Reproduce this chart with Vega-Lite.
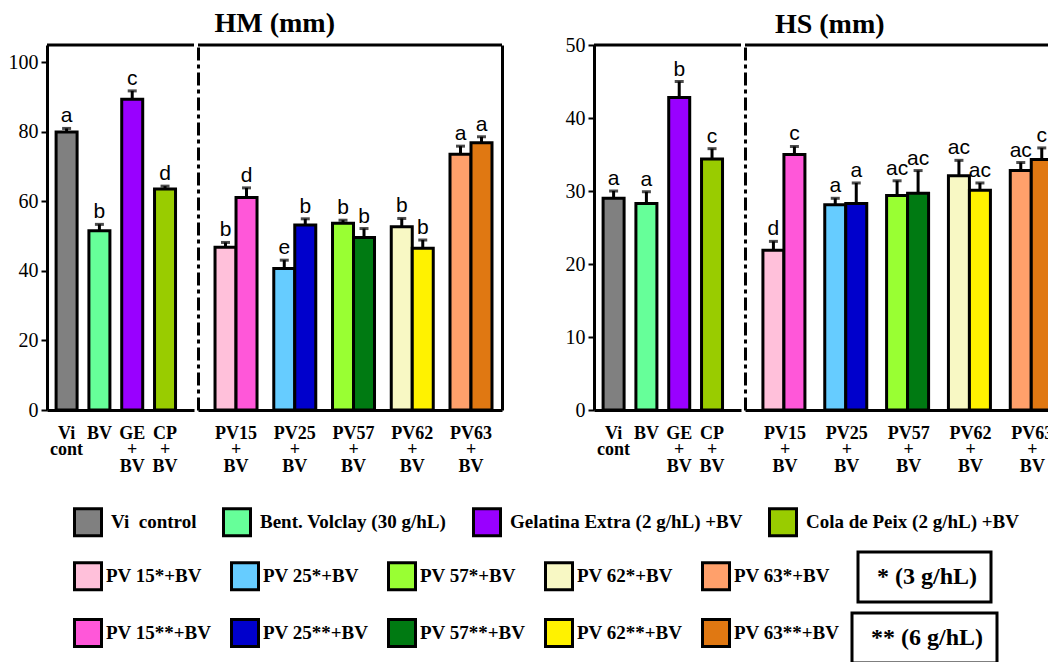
{
 "$schema": "https://vega.github.io/schema/vega-lite/v6.json",
 "padding": {"left": 8, "top": 9, "right": 0, "bottom": 0},
 "background": "white",
 "config": {"view": {"stroke": null}, "font": "Liberation Serif", "axis": {"grid": false}, "legend": {"labelFont": "Liberation Serif"}},
 "datasets": {
  "hmS": [
   {"trt": "Vi", "label": "Vi\u00a0\u00a0control", "mean": 80.0, "hi": 81.0, "sig": "a"},
   {"trt": "BV", "label": "Bent. Volclay (30 g/hL)", "mean": 51.6, "hi": 53.4, "sig": "b"},
   {"trt": "GE", "label": "Gelatina Extra (2 g/hL) +BV", "mean": 89.4, "hi": 91.8, "sig": "c"},
   {"trt": "CP", "label": "Cola de Peix (2 g/hL) +BV", "mean": 63.6, "hi": 64.4, "sig": "d"}
  ],
  "hmP": [
   {"grp": "PV15", "dose": "3", "label": "PV 15*+BV", "mean": 46.8, "hi": 48.2, "sig": "b"},
   {"grp": "PV15", "dose": "6", "label": "PV 15**+BV", "mean": 61.1, "hi": 63.9, "sig": "d"},
   {"grp": "PV25", "dose": "3", "label": "PV 25*+BV", "mean": 40.7, "hi": 43.1, "sig": "e"},
   {"grp": "PV25", "dose": "6", "label": "PV 25**+BV", "mean": 53.2, "hi": 55.0, "sig": "b"},
   {"grp": "PV57", "dose": "3", "label": "PV 57*+BV", "mean": 53.7, "hi": 54.6, "sig": "b"},
   {"grp": "PV57", "dose": "6", "label": "PV 57**+BV", "mean": 49.6, "hi": 52.2, "sig": "b"},
   {"grp": "PV62", "dose": "3", "label": "PV 62*+BV", "mean": 52.7, "hi": 55.1, "sig": "b"},
   {"grp": "PV62", "dose": "6", "label": "PV 62**+BV", "mean": 46.5, "hi": 48.9, "sig": "b"},
   {"grp": "PV63", "dose": "3", "label": "PV 63*+BV", "mean": 73.6, "hi": 75.9, "sig": "a"},
   {"grp": "PV63", "dose": "6", "label": "PV 63**+BV", "mean": 76.9, "hi": 78.6, "sig": "a"}
  ],
  "hsS": [
   {"trt": "Vi", "label": "Vi\u00a0\u00a0control", "mean": 29.0, "hi": 30.0, "sig": "a"},
   {"trt": "BV", "label": "Bent. Volclay (30 g/hL)", "mean": 28.3, "hi": 29.9, "sig": "a"},
   {"trt": "GE", "label": "Gelatina Extra (2 g/hL) +BV", "mean": 42.8, "hi": 45.0, "sig": "b"},
   {"trt": "CP", "label": "Cola de Peix (2 g/hL) +BV", "mean": 34.4, "hi": 35.8, "sig": "c"}
  ],
  "hsP": [
   {"grp": "PV15", "dose": "3", "label": "PV 15*+BV", "mean": 21.9, "hi": 23.1, "sig": "d"},
   {"grp": "PV15", "dose": "6", "label": "PV 15**+BV", "mean": 35.0, "hi": 36.1, "sig": "c"},
   {"grp": "PV25", "dose": "3", "label": "PV 25*+BV", "mean": 28.1, "hi": 29.0, "sig": "a"},
   {"grp": "PV25", "dose": "6", "label": "PV 25**+BV", "mean": 28.3, "hi": 31.1, "sig": "a"},
   {"grp": "PV57", "dose": "3", "label": "PV 57*+BV", "mean": 29.4, "hi": 31.4, "sig": "ac"},
   {"grp": "PV57", "dose": "6", "label": "PV 57**+BV", "mean": 29.7, "hi": 32.8, "sig": "ac"},
   {"grp": "PV62", "dose": "3", "label": "PV 62*+BV", "mean": 32.1, "hi": 34.2, "sig": "ac"},
   {"grp": "PV62", "dose": "6", "label": "PV 62**+BV", "mean": 30.1, "hi": 31.1, "sig": "ac"},
   {"grp": "PV63", "dose": "3", "label": "PV 63*+BV", "mean": 32.8, "hi": 33.9, "sig": "ac"},
   {"grp": "PV63", "dose": "6", "label": "PV 63**+BV", "mean": 34.3, "hi": 35.9, "sig": "c"}
  ],
  "leg": [
   {"label": "Vi\u00a0\u00a0control", "g": 1},
   {"label": "Bent. Volclay (30 g/hL)", "g": 1},
   {"label": "Gelatina Extra (2 g/hL) +BV", "g": 1},
   {"label": "Cola de Peix (2 g/hL) +BV", "g": 1},
   {"label": "PV 15*+BV", "g": 2},
   {"label": "PV 25*+BV", "g": 2},
   {"label": "PV 57*+BV", "g": 2},
   {"label": "PV 62*+BV", "g": 2},
   {"label": "PV 63*+BV", "g": 2},
   {"label": "PV 15**+BV", "g": 2},
   {"label": "PV 25**+BV", "g": 2},
   {"label": "PV 57**+BV", "g": 2},
   {"label": "PV 62**+BV", "g": 2},
   {"label": "PV 63**+BV", "g": 2},
   {"label": "\u00a0* (3 g/hL)\u00a0", "g": 3},
   {"label": "\u00a0** (6 g/hL)\u00a0", "g": 4}
  ]
 },
 "vconcat": [
  {
   "spacing": 61,
   "hconcat": [
    {
     "title": {"text": "HM (mm)", "font": "Liberation Serif", "fontSize": 28, "fontWeight": "bold", "color": "black", "offset": 6, "anchor": "middle", "dx": 19},
     "spacing": 0,
     "hconcat": [
      {
       "width": 147, "height": 365,
       "data": {"name": "hmS"},
       "layer": [
        {"mark": {"type": "bar", "stroke": "black", "strokeWidth": 3},
         "encoding": {
          "x": {"field": "trt", "type": "nominal", "title": null, "scale": {"domain": ["Vi", "BV", "GE", "CP"], "paddingInner": 0.36, "paddingOuter": 0.42, "align": 0.33},
                "axis": {"domainWidth": 3, "domainColor": "black", "ticks": false, "labelFont": "Liberation Serif", "labelFontWeight": "bold", "labelFontSize": 18, "labelColor": "black", "labelPadding": 14, "labelLineHeight": 16.5, "labelAngle": 0, "title": null,
                         "labelExpr": "datum.value == 'Vi' ? ['Vi','cont'] : datum.value == 'BV' ? 'BV' : [datum.value,'+','BV']"}},
          "y": {"field": "mean", "type": "quantitative", "title": null, "scale": {"domain": [0, 105], "nice": false},
                "axis": {"values": [0, 20, 40, 60, 80, 100], "domainWidth": 3, "domainColor": "black", "tickColor": "black", "tickWidth": 2, "tickSize": 6, "labelFont": "Liberation Serif", "labelFontSize": 20, "labelColor": "black", "labelPadding": 3, "grid": false, "title": null}},
          "fill": {"field": "label", "type": "nominal", "legend": null,
                   "scale": {"domain": ["Vi\u00a0\u00a0control", "Bent. Volclay (30 g/hL)", "Gelatina Extra (2 g/hL) +BV", "Cola de Peix (2 g/hL) +BV", "PV 15*+BV", "PV 25*+BV", "PV 57*+BV", "PV 62*+BV", "PV 63*+BV", "PV 15**+BV", "PV 25**+BV", "PV 57**+BV", "PV 62**+BV", "PV 63**+BV"],
                             "range": ["#808080", "#66FF99", "#9900FF", "#99CC00", "#FFC0DA", "#66CCFF", "#99FF33", "#F8F8C4", "#FFA06B", "#FF57D9", "#0000CC", "#007A12", "#FFF200", "#E07812"]}}
         }},
        {"mark": {"type": "rule", "color": "black", "strokeWidth": 3},
         "encoding": {"x": {"field": "trt", "type": "nominal", "title": null}, "y": {"field": "mean", "type": "quantitative", "title": null}, "y2": {"field": "hi"}}},
        {"mark": {"type": "tick", "color": "black", "thickness": 3, "size": 9},
         "encoding": {"x": {"field": "trt", "type": "nominal", "title": null}, "y": {"field": "hi", "type": "quantitative", "title": null}}},
        {"mark": {"type": "text", "font": "Liberation Sans", "fontSize": 21, "baseline": "alphabetic", "dy": -6, "color": "black"},
         "encoding": {"x": {"field": "trt", "type": "nominal", "title": null}, "y": {"field": "hi", "type": "quantitative", "title": null}, "text": {"field": "sig"}}},
        {"data": {"values": [{}]}, "mark": {"type": "rule", "color": "black", "strokeWidth": 3},
         "encoding": {"y": {"datum": 105, "type": "quantitative", "title": null}}}
       ]
      },
      {
       "width": 304, "height": 365,
       "layer": [
        {
         "data": {"name": "hmP"},
         "layer": [
          {"mark": {"type": "bar", "stroke": "black", "strokeWidth": 3},
           "encoding": {
            "x": {"field": "grp", "type": "nominal", "title": null, "scale": {"domain": ["PV15", "PV25", "PV57", "PV62", "PV63"], "paddingInner": 0.285, "paddingOuter": 0.23, "align": 0.63},
                  "axis": {"domainWidth": 3, "domainColor": "black", "ticks": false, "labelFont": "Liberation Serif", "labelFontWeight": "bold", "labelFontSize": 18, "labelColor": "black", "labelPadding": 14, "labelLineHeight": 16.5, "labelAngle": 0, "title": null,
                           "labelExpr": "[datum.value,'+','BV']"}},
            "xOffset": {"field": "dose", "type": "nominal", "scale": {"domain": ["3", "6"], "paddingInner": 0, "paddingOuter": 0}},
            "y": {"field": "mean", "type": "quantitative", "title": null, "scale": {"domain": [0, 105], "nice": false},
                  "axis": {"labels": false, "ticks": false, "domainDash": [13, 4, 4, 4], "domainWidth": 3, "domainColor": "black", "grid": false, "title": null}},
            "fill": {"field": "label", "type": "nominal", "legend": null,
                     "scale": {"domain": ["Vi\u00a0\u00a0control", "Bent. Volclay (30 g/hL)", "Gelatina Extra (2 g/hL) +BV", "Cola de Peix (2 g/hL) +BV", "PV 15*+BV", "PV 25*+BV", "PV 57*+BV", "PV 62*+BV", "PV 63*+BV", "PV 15**+BV", "PV 25**+BV", "PV 57**+BV", "PV 62**+BV", "PV 63**+BV"],
                               "range": ["#808080", "#66FF99", "#9900FF", "#99CC00", "#FFC0DA", "#66CCFF", "#99FF33", "#F8F8C4", "#FFA06B", "#FF57D9", "#0000CC", "#007A12", "#FFF200", "#E07812"]}}
           }},
          {"mark": {"type": "rule", "color": "black", "strokeWidth": 3},
           "encoding": {"x": {"field": "grp", "type": "nominal", "title": null}, "xOffset": {"field": "dose", "type": "nominal"}, "y": {"field": "mean", "type": "quantitative", "title": null}, "y2": {"field": "hi"}}},
          {"mark": {"type": "tick", "color": "black", "thickness": 3, "size": 9},
           "encoding": {"x": {"field": "grp", "type": "nominal", "title": null}, "xOffset": {"field": "dose", "type": "nominal"}, "y": {"field": "hi", "type": "quantitative", "title": null}}},
          {"mark": {"type": "text", "font": "Liberation Sans", "fontSize": 21, "baseline": "alphabetic", "dy": -6, "color": "black"},
           "encoding": {"x": {"field": "grp", "type": "nominal", "title": null}, "xOffset": {"field": "dose", "type": "nominal"}, "y": {"field": "hi", "type": "quantitative", "title": null}, "text": {"field": "sig"}}}
         ]
        },
        {"data": {"values": [{}]}, "mark": {"type": "rule", "color": "black", "strokeWidth": 3},
         "encoding": {"y": {"datum": 105, "type": "quantitative", "title": null, "axis": {"orient": "right", "labels": false, "ticks": false, "domainWidth": 3, "domainColor": "black", "grid": false, "title": null}}}}
       ],
       "resolve": {"axis": {"y": "independent"}}
      }
     ]
    },
    {
     "title": {"text": "HS (mm)", "font": "Liberation Serif", "fontSize": 28, "fontWeight": "bold", "color": "black", "offset": 6, "anchor": "middle", "dy": 10, "dx": 14},
     "spacing": 0,
     "hconcat": [
      {
       "width": 147, "height": 365,
       "data": {"name": "hsS"},
       "layer": [
        {"mark": {"type": "bar", "stroke": "black", "strokeWidth": 3},
         "encoding": {
          "x": {"field": "trt", "type": "nominal", "title": null, "scale": {"domain": ["Vi", "BV", "GE", "CP"], "paddingInner": 0.36, "paddingOuter": 0.42, "align": 0.33},
                "axis": {"domainWidth": 3, "domainColor": "black", "ticks": false, "labelFont": "Liberation Serif", "labelFontWeight": "bold", "labelFontSize": 18, "labelColor": "black", "labelPadding": 14, "labelLineHeight": 16.5, "labelAngle": 0, "title": null,
                         "labelExpr": "datum.value == 'Vi' ? ['Vi','cont'] : datum.value == 'BV' ? 'BV' : [datum.value,'+','BV']"}},
          "y": {"field": "mean", "type": "quantitative", "title": null, "scale": {"domain": [0, 50], "nice": false},
                "axis": {"values": [0, 10, 20, 30, 40, 50], "domainWidth": 3, "domainColor": "black", "tickColor": "black", "tickWidth": 2, "tickSize": 6, "labelFont": "Liberation Serif", "labelFontSize": 20, "labelColor": "black", "labelPadding": 3, "grid": false, "title": null}},
          "fill": {"field": "label", "type": "nominal", "legend": null,
                   "scale": {"domain": ["Vi\u00a0\u00a0control", "Bent. Volclay (30 g/hL)", "Gelatina Extra (2 g/hL) +BV", "Cola de Peix (2 g/hL) +BV", "PV 15*+BV", "PV 25*+BV", "PV 57*+BV", "PV 62*+BV", "PV 63*+BV", "PV 15**+BV", "PV 25**+BV", "PV 57**+BV", "PV 62**+BV", "PV 63**+BV"],
                             "range": ["#808080", "#66FF99", "#9900FF", "#99CC00", "#FFC0DA", "#66CCFF", "#99FF33", "#F8F8C4", "#FFA06B", "#FF57D9", "#0000CC", "#007A12", "#FFF200", "#E07812"]}}
         }},
        {"mark": {"type": "rule", "color": "black", "strokeWidth": 3},
         "encoding": {"x": {"field": "trt", "type": "nominal", "title": null}, "y": {"field": "mean", "type": "quantitative", "title": null}, "y2": {"field": "hi"}}},
        {"mark": {"type": "tick", "color": "black", "thickness": 3, "size": 9},
         "encoding": {"x": {"field": "trt", "type": "nominal", "title": null}, "y": {"field": "hi", "type": "quantitative", "title": null}}},
        {"mark": {"type": "text", "font": "Liberation Sans", "fontSize": 21, "baseline": "alphabetic", "dy": -6, "color": "black"},
         "encoding": {"x": {"field": "trt", "type": "nominal", "title": null}, "y": {"field": "hi", "type": "quantitative", "title": null}, "text": {"field": "sig"}}},
        {"data": {"values": [{}]}, "mark": {"type": "rule", "color": "black", "strokeWidth": 3},
         "encoding": {"y": {"datum": 50, "type": "quantitative", "title": null}}}
       ]
      },
      {
       "width": 320, "height": 365,
       "layer": [
        {
         "data": {"name": "hsP"},
         "layer": [
          {"mark": {"type": "bar", "stroke": "black", "strokeWidth": 3},
           "encoding": {
            "x": {"field": "grp", "type": "nominal", "title": null, "scale": {"domain": ["PV15", "PV25", "PV57", "PV62", "PV63"], "paddingInner": 0.285, "paddingOuter": 0.23, "align": 0.63},
                  "axis": {"domainWidth": 3, "domainColor": "black", "ticks": false, "labelFont": "Liberation Serif", "labelFontWeight": "bold", "labelFontSize": 18, "labelColor": "black", "labelPadding": 14, "labelLineHeight": 16.5, "labelAngle": 0, "title": null,
                           "labelExpr": "[datum.value,'+','BV']"}},
            "xOffset": {"field": "dose", "type": "nominal", "scale": {"domain": ["3", "6"], "paddingInner": 0, "paddingOuter": 0}},
            "y": {"field": "mean", "type": "quantitative", "title": null, "scale": {"domain": [0, 50], "nice": false},
                  "axis": {"labels": false, "ticks": false, "domainDash": [13, 4, 4, 4], "domainWidth": 3, "domainColor": "black", "grid": false, "title": null}},
            "fill": {"field": "label", "type": "nominal", "legend": null,
                     "scale": {"domain": ["Vi\u00a0\u00a0control", "Bent. Volclay (30 g/hL)", "Gelatina Extra (2 g/hL) +BV", "Cola de Peix (2 g/hL) +BV", "PV 15*+BV", "PV 25*+BV", "PV 57*+BV", "PV 62*+BV", "PV 63*+BV", "PV 15**+BV", "PV 25**+BV", "PV 57**+BV", "PV 62**+BV", "PV 63**+BV"],
                               "range": ["#808080", "#66FF99", "#9900FF", "#99CC00", "#FFC0DA", "#66CCFF", "#99FF33", "#F8F8C4", "#FFA06B", "#FF57D9", "#0000CC", "#007A12", "#FFF200", "#E07812"]}}
           }},
          {"mark": {"type": "rule", "color": "black", "strokeWidth": 3},
           "encoding": {"x": {"field": "grp", "type": "nominal", "title": null}, "xOffset": {"field": "dose", "type": "nominal"}, "y": {"field": "mean", "type": "quantitative", "title": null}, "y2": {"field": "hi"}}},
          {"mark": {"type": "tick", "color": "black", "thickness": 3, "size": 9},
           "encoding": {"x": {"field": "grp", "type": "nominal", "title": null}, "xOffset": {"field": "dose", "type": "nominal"}, "y": {"field": "hi", "type": "quantitative", "title": null}}},
          {"mark": {"type": "text", "font": "Liberation Sans", "fontSize": 21, "baseline": "alphabetic", "dy": -6, "color": "black"},
           "encoding": {"x": {"field": "grp", "type": "nominal", "title": null}, "xOffset": {"field": "dose", "type": "nominal"}, "y": {"field": "hi", "type": "quantitative", "title": null}, "text": {"field": "sig"}}}
         ]
        },
        {"data": {"values": [{}]}, "mark": {"type": "rule", "color": "black", "strokeWidth": 3},
         "encoding": {"y": {"datum": 50, "type": "quantitative", "title": null, "axis": {"orient": "right", "labels": false, "ticks": false, "domainWidth": 3, "domainColor": "black", "grid": false, "title": null}}}}
       ],
       "resolve": {"axis": {"y": "independent"}}
      }
     ]
    }
   ]
  },
  {
   "width": 980, "height": 150,
   "data": {"name": "leg"},
   "layer": [
    {"transform": [{"filter": "datum.g == 1"}],
     "mark": {"type": "square", "opacity": 0, "stroke": "black"},
     "encoding": {"fill": {"field": "label", "type": "nominal",
       "scale": {"domain": ["Vi\u00a0\u00a0control", "Bent. Volclay (30 g/hL)", "Gelatina Extra (2 g/hL) +BV", "Cola de Peix (2 g/hL) +BV"], "range": ["#808080", "#66FF99", "#9900FF", "#99CC00"]},
       "legend": {"orient": "none", "legendX": 26, "legendY": 32, "direction": "horizontal", "title": null, "symbolType": "square", "symbolSize": 729, "symbolStrokeColor": "black", "symbolStrokeWidth": 3, "symbolOpacity": 1, "labelFont": "Liberation Serif", "labelFontWeight": "bold", "labelFontSize": 19, "labelColor": "black", "labelOffset": 8, "labelLimit": 400, "columnPadding": 20}}}},
    {"transform": [{"filter": "datum.g == 2"}],
     "mark": {"type": "square", "opacity": 0, "stroke": "black"},
     "encoding": {"fill": {"field": "label", "type": "nominal",
       "scale": {"domain": ["PV 15*+BV", "PV 25*+BV", "PV 57*+BV", "PV 62*+BV", "PV 63*+BV", "PV 15**+BV", "PV 25**+BV", "PV 57**+BV", "PV 62**+BV", "PV 63**+BV"], "range": ["#FFC0DA", "#66CCFF", "#99FF33", "#F8F8C4", "#FFA06B", "#FF57D9", "#0000CC", "#007A12", "#FFF200", "#E07812"]},
       "legend": {"orient": "none", "legendX": 26, "legendY": 86, "direction": "horizontal", "columns": 5, "title": null, "symbolType": "square", "symbolSize": 729, "symbolStrokeColor": "black", "symbolStrokeWidth": 3, "symbolOpacity": 1, "labelFont": "Liberation Serif", "labelFontWeight": "bold", "labelFontSize": 19, "labelColor": "black", "labelOffset": 3, "labelLimit": 400, "columnPadding": 13, "rowPadding": 17}}}},
    {"transform": [{"filter": "datum.g == 3"}],
     "mark": {"type": "square", "opacity": 0},
     "encoding": {"fill": {"field": "label", "type": "nominal",
       "scale": {"domain": ["\u00a0* (3 g/hL)\u00a0"], "range": ["#ffffff"]},
       "legend": {"orient": "none", "legendX": 811, "legendY": 77, "title": null, "symbolSize": 0.01, "symbolStrokeWidth": 0.01, "symbolOpacity": 0, "labelOffset": -18, "strokeColor": "black", "padding": 13, "labelFont": "Liberation Serif", "labelFontWeight": "bold", "labelFontSize": 24, "labelColor": "black", "labelLimit": 400,
                  "encode": {"legend": {"update": {"strokeWidth": {"value": 3}}}}}}}},
    {"transform": [{"filter": "datum.g == 4"}],
     "mark": {"type": "square", "opacity": 0},
     "encoding": {"fill": {"field": "label", "type": "nominal",
       "scale": {"domain": ["\u00a0** (6 g/hL)\u00a0"], "range": ["#ffffff"]},
       "legend": {"orient": "none", "legendX": 805, "legendY": 138, "title": null, "symbolSize": 0.01, "symbolStrokeWidth": 0.01, "symbolOpacity": 0, "labelOffset": -18, "strokeColor": "black", "padding": 13, "labelFont": "Liberation Serif", "labelFontWeight": "bold", "labelFontSize": 24, "labelColor": "black", "labelLimit": 400,
                  "encode": {"legend": {"update": {"strokeWidth": {"value": 3}}}}}}}}
   ],
   "resolve": {"scale": {"fill": "independent"}}
  }
 ],
 "spacing": 0,
 "resolve": {"scale": {"fill": "independent"}}
}
